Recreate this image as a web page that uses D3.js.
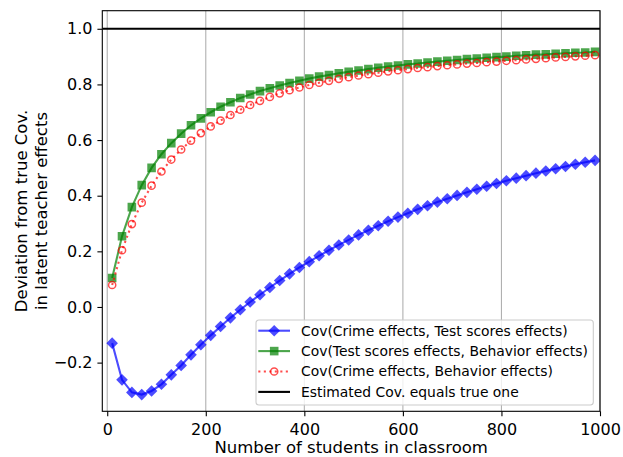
<!DOCTYPE html>
<html>
<head>
<meta charset="utf-8">
<script src="https://cdn.jsdelivr.net/npm/d3@7"></script>
<style>
  body { margin: 0; background: #fff; }
  svg { display: block; font-family: "DejaVu Sans", sans-serif; }
</style>
</head>
<body>
<svg id="chart" width="623" height="457"></svg>
<script>
// class sizes (students per classroom)
const classSizes = [10, 30, 50, 70, 90, 110, 130, 150, 170, 190,
    210, 230, 250, 270, 290, 310, 330, 350, 370, 390,
    410, 430, 450, 470, 490, 510, 530, 550, 570, 590,
    610, 630, 650, 670, 690, 710, 730, 750, 770, 790,
    810, 830, 850, 870, 890, 910, 930, 950, 970, 990];

const crimeTest = [-0.130, -0.262, -0.307, -0.315, -0.302, -0.278, -0.244, -0.210, -0.172, -0.136,
    -0.102, -0.070, -0.039, -0.010, 0.018, 0.044, 0.070, 0.095, 0.119, 0.142,
    0.163, 0.184, 0.204, 0.223, 0.241, 0.259, 0.276, 0.292, 0.308, 0.323,
    0.337, 0.351, 0.364, 0.377, 0.389, 0.401, 0.412, 0.423, 0.434, 0.444,
    0.454, 0.463, 0.472, 0.481, 0.489, 0.497, 0.505, 0.513, 0.520, 0.527];

const testBehavior = [0.104, 0.254, 0.359, 0.438, 0.500, 0.549, 0.589, 0.623, 0.653, 0.678,
    0.700, 0.720, 0.736, 0.751, 0.764, 0.776, 0.786, 0.796, 0.805, 0.813,
    0.821, 0.828, 0.834, 0.840, 0.845, 0.850, 0.855, 0.860, 0.864, 0.868,
    0.872, 0.875, 0.879, 0.882, 0.885, 0.888, 0.891, 0.893, 0.896, 0.898,
    0.900, 0.903, 0.905, 0.907, 0.908, 0.910, 0.912, 0.914, 0.915, 0.917];

const crimeBehavior = [0.079, 0.204, 0.298, 0.375, 0.436, 0.487, 0.530, 0.566, 0.598, 0.625,
    0.649, 0.670, 0.690, 0.709, 0.726, 0.741, 0.755, 0.768, 0.779, 0.789,
    0.798, 0.806, 0.813, 0.820, 0.826, 0.832, 0.837, 0.842, 0.847, 0.851,
    0.855, 0.859, 0.862, 0.866, 0.869, 0.872, 0.875, 0.877, 0.880, 0.882,
    0.885, 0.887, 0.890, 0.892, 0.894, 0.897, 0.899, 0.901, 0.903, 0.905];

const trueCov = 1.0;

const xTicks = [0, 200, 400, 600, 800, 1000];
const yTicks = [-0.2, 0.0, 0.2, 0.4, 0.6, 0.8, 1.0];

const seriesNames = [
    'Cov(Crime effects, Test scores effects)',
    'Cov(Test scores effects, Behavior effects)',
    'Cov(Crime effects, Behavior effects)',
    'Estimated Cov. equals true one'
];

const COLORS = {
    blue: '#0000ff',
    green: '#008000',
    red: '#ff0000',
    black: '#000000',
    grid: '#b0b0b0',
    legendEdge: '#cccccc'
};

const margin = { left: 102.3, right: 23, top: 10.7, bottom: 45.7 };
const W = 623, H = 457;

const svg = d3.select('#chart');

const x = d3.scaleLinear().domain([-10, 1000]).range([margin.left, W - margin.right]);
const y = d3.scaleLinear().domain([-0.375, 1.065]).range([H - margin.bottom, margin.top]);

// vertical grid
svg.append('g').selectAll('line')
    .data(xTicks)
    .enter().append('line')
    .attr('x1', d => x(d)).attr('x2', d => x(d))
    .attr('y1', y.range()[0]).attr('y2', y.range()[1])
    .attr('stroke', COLORS.grid)
    .attr('stroke-width', 1.1);

svg.append('clipPath').attr('id', 'plotClip')
    .append('rect')
    .attr('x', x.range()[0]).attr('y', y.range()[1])
    .attr('width', x.range()[1] - x.range()[0])
    .attr('height', y.range()[0] - y.range()[1]);

const plot = svg.append('g').attr('clip-path', 'url(#plotClip)');

const line = d3.line().x(d => x(d[0])).y(d => y(d[1]));

const diamond = r => `M0,${-r}L${r},0L0,${r}L${-r},0Z`;
const square = s => `M${-s / 2},${-s / 2}h${s}v${s}h${-s}Z`;

function drawSeries(g, values, opts) {
    var pts = classSizes.map((c, i) => [c, values[i]]);
    g.append('path')
        .datum(pts)
        .attr('d', line)
        .attr('fill', 'none')
        .attr('stroke', opts.color)
        .attr('stroke-width', 2.1)
        .attr('stroke-dasharray', opts.dash || null)
        .attr('opacity', 0.7);
    g.append('g').selectAll('path')
        .data(pts)
        .enter().append('path')
        .attr('transform', d => 'translate(' + x(d[0]) + ',' + y(d[1]) + ')')
        .attr('d', opts.marker)
        .attr('fill', opts.fill)
        .attr('stroke', opts.stroke)
        .attr('stroke-width', opts.strokeWidth || 0)
        .attr('opacity', 0.7);
}

const STYLES = [
    { color: COLORS.blue, marker: diamond(5.8), fill: COLORS.blue, stroke: 'none' },
    { color: COLORS.green, marker: square(8.6), fill: COLORS.green, stroke: 'none' },
    { color: COLORS.red, dash: '2.1,3.4', marker: d3.symbol(d3.symbolCircle, Math.PI * 3.6 * 3.6)(),
        fill: 'none', stroke: COLORS.red, strokeWidth: 1.5 }
];

drawSeries(plot, crimeTest, STYLES[0]);
drawSeries(plot, testBehavior, STYLES[1]);
drawSeries(plot, crimeBehavior, STYLES[2]);

// true covariance reference line
plot.append('line')
    .attr('x1', x.range()[0]).attr('x2', x.range()[1])
    .attr('y1', y(trueCov)).attr('y2', y(trueCov))
    .attr('stroke', COLORS.black)
    .attr('stroke-width', 2.1);

// axes
const xAxis = svg.append('g')
    .attr('transform', 'translate(0,' + y.range()[0] + ')')
    .call(d3.axisBottom(x).tickValues(xTicks).tickSize(4.9).tickPadding(7).tickFormat(d3.format('d')));
const yAxis = svg.append('g')
    .attr('transform', 'translate(' + x.range()[0] + ',0)')
    .call(d3.axisLeft(y).tickValues(yTicks).tickSize(4.9).tickPadding(4.9).tickFormat(d3.format('.1f')));

[xAxis, yAxis].forEach(a => {
    a.select('.domain').remove();
    a.selectAll('line').attr('stroke', '#000').attr('stroke-width', 1.1);
    a.selectAll('text').attr('font-size', 16).attr('fill', '#000')
        .attr('font-family', 'DejaVu Sans');
});

// frame
svg.append('rect')
    .attr('x', x.range()[0]).attr('y', y.range()[1])
    .attr('width', x.range()[1] - x.range()[0])
    .attr('height', y.range()[0] - y.range()[1])
    .attr('fill', 'none')
    .attr('stroke', '#000')
    .attr('stroke-width', 1.1);

// axis titles
svg.append('text')
    .attr('x', (x.range()[0] + x.range()[1]) / 2)
    .attr('y', 452.5)
    .attr('text-anchor', 'middle')
    .attr('font-size', 16.5)
    .text('Number of students in classroom');

const yMid = (y.range()[0] + y.range()[1]) / 2;
const yTitle = svg.append('text')
    .attr('transform', 'translate(27,' + yMid + ') rotate(-90)')
    .attr('text-anchor', 'middle')
    .attr('font-size', 16.5);
yTitle.append('tspan').attr('x', 0).attr('dy', 0).text('Deviation from true Cov.');
yTitle.append('tspan').attr('x', 0).attr('dy', 19.5).text('in latent teacher effects');

// legend
const legend = svg.append('g').attr('transform', 'translate(256,320)');
legend.append('rect')
    .attr('width', 337.3).attr('height', 85)
    .attr('rx', 3)
    .attr('fill', '#fff').attr('fill-opacity', 0.8)
    .attr('stroke', COLORS.legendEdge).attr('stroke-width', 1.1);

const rows = legend.selectAll('.legendRow')
    .data(seriesNames)
    .enter().append('g')
    .attr('class', 'legendRow')
    .attr('transform', (d, i) => 'translate(0,' + (10.7 + i * 20.4) + ')');

rows.each(function (d, i) {
    var row = d3.select(this);
    var st = STYLES[i];
    row.append('line')
        .attr('x1', 2.3).attr('x2', 34)
        .attr('stroke', st ? st.color : COLORS.black)
        .attr('stroke-width', 2.1)
        .attr('stroke-dasharray', st && st.dash ? st.dash : null)
        .attr('opacity', st ? 0.7 : 1);
    if (st) {
        row.append('path')
            .attr('transform', 'translate(18.2,0)')
            .attr('d', st.marker)
            .attr('fill', st.fill)
            .attr('stroke', st.stroke)
            .attr('stroke-width', st.strokeWidth || 0)
            .attr('opacity', 0.7);
    }
    row.append('text')
        .attr('x', 45)
        .attr('dy', '0.35em')
        .attr('font-size', 13.9)
        .text(d);
});
</script>
</body>
</html>
